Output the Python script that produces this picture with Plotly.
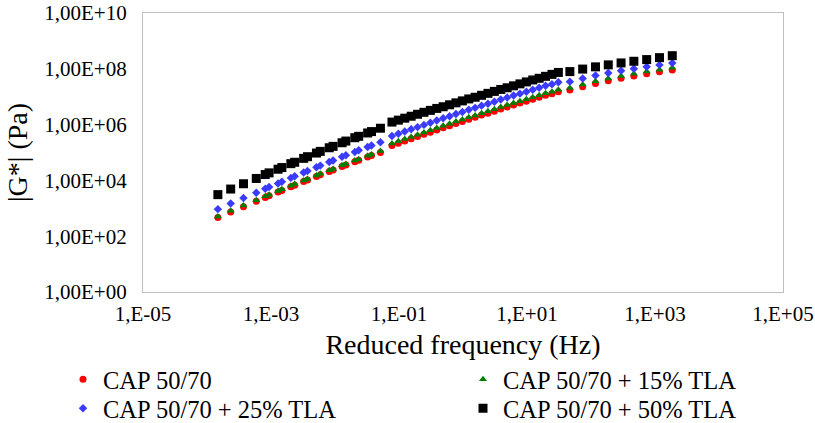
import numpy as np
import plotly.graph_objects as go

# log10 of reduced frequency (Hz)
log_freq = [
    -3.83, -3.63, -3.43, -3.23, -3.09, -3.03, -2.89, -2.83, -2.69, -2.63,
    -2.49, -2.43, -2.29, -2.23, -2.09, -2.03, -1.89, -1.83, -1.69, -1.63,
    -1.49, -1.43, -1.29,
    -1.11, -1.01, -0.91, -0.81, -0.71, -0.61, -0.51, -0.41, -0.31, -0.21,
    -0.11, -0.01, 0.09, 0.19, 0.29, 0.39, 0.49, 0.59, 0.69, 0.79,
    0.89, 0.99, 1.09, 1.19, 1.29, 1.39, 1.49,
    1.67, 1.87, 2.07, 2.27, 2.47, 2.67, 2.87, 3.07, 3.27,
]

# log10 of |G*| (Pa)
log_g_cap = [
    2.67, 2.87, 3.06, 3.25, 3.39, 3.45, 3.58, 3.64, 3.77, 3.83,
    3.96, 4.01, 4.14, 4.20, 4.32, 4.37, 4.50, 4.55, 4.67, 4.72,
    4.84, 4.89, 5.00,
    5.25, 5.33, 5.41, 5.49, 5.57, 5.65, 5.73, 5.81, 5.89, 5.96,
    6.04, 6.11, 6.19, 6.26, 6.34, 6.41, 6.48, 6.56, 6.63, 6.70,
    6.77, 6.84, 6.91, 6.98, 7.05, 7.11, 7.18,
    7.24, 7.36, 7.47, 7.57, 7.66, 7.74, 7.82, 7.89, 7.96,
]
log_g_tla15 = [
    2.71, 2.91, 3.10, 3.29, 3.43, 3.49, 3.62, 3.68, 3.81, 3.87,
    4.00, 4.05, 4.18, 4.24, 4.36, 4.41, 4.54, 4.59, 4.71, 4.76,
    4.88, 4.93, 5.05,
    5.32, 5.40, 5.48, 5.56, 5.64, 5.72, 5.80, 5.88, 5.96, 6.03,
    6.11, 6.18, 6.26, 6.33, 6.41, 6.48, 6.55, 6.63, 6.70, 6.77,
    6.84, 6.91, 6.98, 7.05, 7.12, 7.18, 7.25,
    7.31, 7.44, 7.55, 7.65, 7.74, 7.82, 7.90, 7.97, 8.04,
]
log_g_tla25 = [
    2.97, 3.17, 3.37, 3.56, 3.70, 3.76, 3.89, 3.95, 4.09, 4.15,
    4.28, 4.34, 4.47, 4.53, 4.66, 4.71, 4.85, 4.90, 5.02, 5.08,
    5.20, 5.25, 5.37,
    5.59, 5.67, 5.75, 5.83, 5.91, 5.99, 6.07, 6.15, 6.23, 6.30,
    6.38, 6.45, 6.53, 6.60, 6.68, 6.75, 6.82, 6.90, 6.97, 7.04,
    7.11, 7.18, 7.25, 7.32, 7.39, 7.45, 7.52,
    7.54, 7.65, 7.76, 7.85, 7.93, 8.00, 8.07, 8.14, 8.21,
]
log_g_tla50 = [
    3.49, 3.69, 3.88, 4.07, 4.21, 4.27, 4.40, 4.46, 4.60, 4.65,
    4.79, 4.85, 4.98, 5.04, 5.17, 5.22, 5.35, 5.41, 5.53, 5.58,
    5.70, 5.75, 5.87,
    6.09, 6.16, 6.23, 6.30, 6.37, 6.44, 6.51, 6.58, 6.64, 6.71,
    6.78, 6.85, 6.92, 6.98, 7.05, 7.12, 7.19, 7.26, 7.32, 7.39,
    7.46, 7.53, 7.60, 7.66, 7.73, 7.80, 7.87,
    7.90, 7.99, 8.07, 8.14, 8.21, 8.27, 8.33, 8.40, 8.47,
]

series_names = [
    "CAP 50/70",
    "CAP 50/70 + 15% TLA",
    "CAP 50/70 + 25% TLA",
    "CAP 50/70 + 50% TLA",
]
series_values = [log_g_cap, log_g_tla15, log_g_tla25, log_g_tla50]

x_tick_vals = [1e-5, 1e-3, 1e-1, 1e1, 1e3, 1e5]
x_tick_text = ["1,E-05", "1,E-03", "1,E-01", "1,E+01", "1,E+03", "1,E+05"]
y_tick_vals = [1e0, 1e2, 1e4, 1e6, 1e8, 1e10]
y_tick_text = ["1,00E+00", "1,00E+02", "1,00E+04", "1,00E+06", "1,00E+08", "1,00E+10"]

styles = [
    dict(color="#ff0000", symbol="circle", size=7),
    dict(color="#008000", symbol="triangle-up", size=7),
    dict(color="#3b3bff", symbol="diamond", size=6.5),
    dict(color="#000000", symbol="square", size=9),
]
# legend entry positions (paper fractions): left edge x, top y
legend_pos = [(-0.125, -0.232), (0.5, -0.232), (-0.125, -0.336), (0.5, -0.336)]

FONT = "Times New Roman"

fig = go.Figure()
freq = 10 ** np.array(log_freq)
layout_legends = {}
for i, (name, vals, st) in enumerate(zip(series_names, series_values, styles)):
    lid = "legend" if i == 0 else f"legend{i + 1}"
    fig.add_trace(go.Scatter(
        x=freq, y=10 ** np.array(vals), mode="markers", name=name,
        legend=lid,
        marker=dict(color=st["color"], symbol=st["symbol"], size=st["size"],
                    line=dict(width=0)),
    ))
    lx, ly = legend_pos[i]
    layout_legends[lid] = dict(
        x=lx, y=ly, xanchor="left", yanchor="top", orientation="v",
        font=dict(family=FONT, size=24.5, color="#000000"),
        bgcolor="rgba(0,0,0,0)", itemsizing="trace",
    )

axis_common = dict(
    showgrid=False, zeroline=False, showline=True, mirror=True,
    linecolor="#bfbfbf", linewidth=1.2, ticks="", automargin=False,
    tickfont=dict(family=FONT, size=21, color="#000000"),
)

fig.update_layout(
    width=815, height=423,
    margin=dict(l=143, r=32, t=13, b=131, autoexpand=False),
    paper_bgcolor="white", plot_bgcolor="white",
    font=dict(family=FONT, color="#000000"),
    xaxis=dict(
        type="log", range=[-5, 5], tickvals=x_tick_vals, ticktext=x_tick_text,
        ticklabelstandoff=3,
        title=dict(text="Reduced frequency (Hz)", font=dict(family=FONT, size=28), standoff=9),
        **axis_common,
    ),
    yaxis=dict(
        type="log", range=[0, 10], tickvals=y_tick_vals, ticktext=y_tick_text,
        ticklabelstandoff=11,
        title=dict(text="|G*| (Pa)", font=dict(family=FONT, size=28), standoff=8),
        **axis_common,
    ),
    showlegend=True,
    **layout_legends,
)

fig.write_html("out.html")
